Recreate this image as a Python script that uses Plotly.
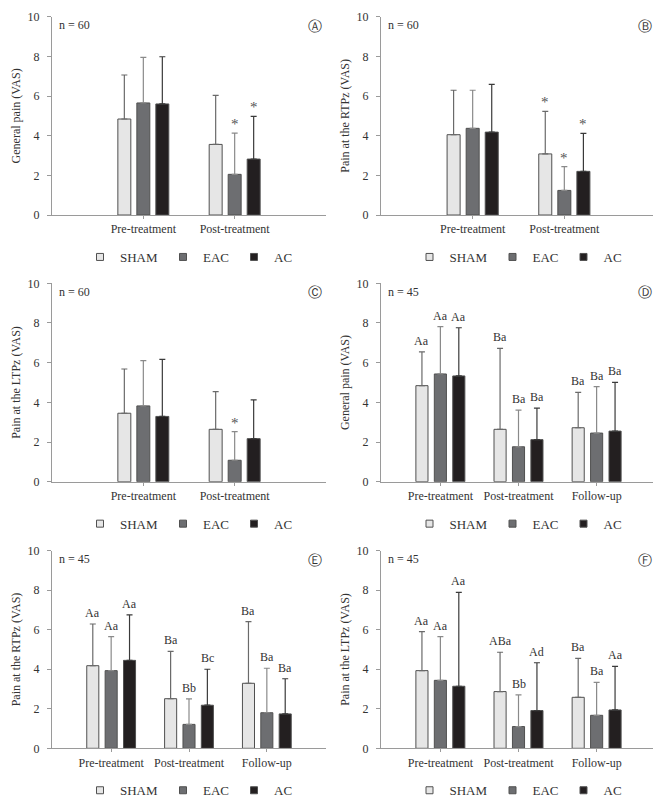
import plotly.graph_objects as go
from plotly.subplots import make_subplots

groups = ["SHAM", "EAC", "AC"]
cats2 = ["Pre-treatment", "Post-treatment"]
cats3 = ["Pre-treatment", "Post-treatment", "Follow-up"]

# Panel A - General pain (n = 60)
a_sham = [4.84, 3.56]; a_sham_sd = [2.22, 2.47]
a_eac = [5.65, 2.05]; a_eac_sd = [2.30, 2.08]
a_ac = [5.60, 2.82]; a_ac_sd = [2.38, 2.15]
a_marks = [["", ""], ["", "*"], ["", "*"]]

# Panel B - Pain at the RTPz (n = 60)
b_sham = [4.05, 3.08]; b_sham_sd = [2.24, 2.15]
b_eac = [4.37, 1.24]; b_eac_sd = [1.92, 1.20]
b_ac = [4.18, 2.20]; b_ac_sd = [2.41, 1.92]
b_marks = [["", "*"], ["", "*"], ["", "*"]]

# Panel C - Pain at the LTPz (n = 60)
c_sham = [3.45, 2.64]; c_sham_sd = [2.23, 1.90]
c_eac = [3.82, 1.08]; c_eac_sd = [2.28, 1.44]
c_ac = [3.29, 2.17]; c_ac_sd = [2.88, 1.95]
c_marks = [["", ""], ["", "*"], ["", ""]]

# Panel D - General pain (n = 45)
d_sham = [4.84, 2.64, 2.72]; d_sham_sd = [1.70, 4.08, 1.78]
d_eac = [5.43, 1.76, 2.45]; d_eac_sd = [2.39, 1.85, 2.34]
d_ac = [5.33, 2.12, 2.55]; d_ac_sd = [2.43, 1.59, 2.46]
d_marks = [["Aa", "Ba", "Ba"], ["Aa", "Ba", "Ba"], ["Aa", "Ba", "Ba"]]

# Panel E - Pain at the RTPz (n = 45)
e_sham = [4.18, 2.51, 3.29]; e_sham_sd = [2.11, 2.40, 3.12]
e_eac = [3.93, 1.21, 1.80]; e_eac_sd = [1.72, 1.29, 2.25]
e_ac = [4.45, 2.18, 1.74]; e_ac_sd = [2.30, 1.82, 1.78]
e_marks = [["Aa", "Ba", "Ba"], ["Aa", "Bb", "Ba"], ["Aa", "Bc", "Ba"]]

# Panel F - Pain at the LTPz (n = 45)
f_sham = [3.93, 2.87, 2.58]; f_sham_sd = [1.97, 1.99, 1.97]
f_eac = [3.44, 1.10, 1.67]; f_eac_sd = [2.21, 1.60, 1.67]
f_ac = [3.14, 1.91, 1.94]; f_ac_sd = [4.75, 2.42, 2.21]
f_marks = [["Aa", "ABa", "Ba"], ["Aa", "Bb", "Ba"], ["Aa", "Ad", "Aa"]]

panels = [
    dict(letter="Ⓐ", n="n = 60", ytitle="General pain (VAS)", cats=cats2,
         means=[a_sham, a_eac, a_ac], sds=[a_sham_sd, a_eac_sd, a_ac_sd], marks=a_marks),
    dict(letter="Ⓑ", n="n = 60", ytitle="Pain at the RTPz (VAS)", cats=cats2,
         means=[b_sham, b_eac, b_ac], sds=[b_sham_sd, b_eac_sd, b_ac_sd], marks=b_marks),
    dict(letter="Ⓒ", n="n = 60", ytitle="Pain at the LTPz (VAS)", cats=cats2,
         means=[c_sham, c_eac, c_ac], sds=[c_sham_sd, c_eac_sd, c_ac_sd], marks=c_marks),
    dict(letter="Ⓓ", n="n = 45", ytitle="General pain (VAS)", cats=cats3,
         means=[d_sham, d_eac, d_ac], sds=[d_sham_sd, d_eac_sd, d_ac_sd], marks=d_marks),
    dict(letter="Ⓔ", n="n = 45", ytitle="Pain at the RTPz (VAS)", cats=cats3,
         means=[e_sham, e_eac, e_ac], sds=[e_sham_sd, e_eac_sd, e_ac_sd], marks=e_marks),
    dict(letter="Ⓕ", n="n = 45", ytitle="Pain at the LTPz (VAS)", cats=cats3,
         means=[f_sham, f_eac, f_ac], sds=[f_sham_sd, f_eac_sd, f_ac_sd], marks=f_marks),
]

fill_colors = ["#e6e6e6", "#6d6e71", "#231f20"]
err_colors = ["#6a6a6a", "#8a8a8a", "#3a3a3a"]
SERIF = "Liberation Serif"
W, H = 661, 802
PAGE_OFF = 8  # default page margin around the plot div

fig = make_subplots(rows=3, cols=2)

x_px = [(52, 326), (381, 656)]
y_px = [(16.7, 215), (283.3, 481.7), (550.7, 748.3)]

for i, p in enumerate(panels):
    row, col = i // 2 + 1, i % 2 + 1
    ncat = len(p["cats"])
    pos = list(range(ncat))
    if ncat == 2:
        bw, step, xr = 0.142, 0.208, [-1, 2]
    else:
        bw, step, xr = 0.155, 0.236, [-0.76, 2.76]
    leg = "legend" if i == 0 else f"legend{i+1}"
    sp = fig.get_subplot(row, col)
    xa = sp.xaxis.plotly_name
    ya = sp.yaxis.plotly_name
    axref = xa.replace("axis", "")
    ayref = ya.replace("axis", "")
    for g in range(3):
        off = (g - 1) * step - bw / 2
        fig.add_trace(go.Bar(
            x=pos, y=p["means"][g], width=bw, offset=off,
            marker=dict(color=fill_colors[g], line=dict(color="#505050", width=1)),
            error_y=dict(type="data", array=p["sds"][g], arrayminus=[0] * ncat,
                         symmetric=False, color=err_colors[g], thickness=1.2, width=3),
            showlegend=False, name=groups[g], legend=leg,
        ), row=row, col=col)
        # legend-only marker
        fig.add_trace(go.Scatter(
            x=[None], y=[None], mode="markers", name=groups[g],
            marker=dict(symbol="square", size=7, color=fill_colors[g],
                        line=dict(color="#505050", width=1)),
            legend=leg, showlegend=True,
        ), row=row, col=col)
        # labels above error bars
        for k in range(ncat):
            t = p["marks"][g][k]
            if not t:
                continue
            top = p["means"][g][k] + p["sds"][g][k]
            is_star = t == "*"
            fig.add_annotation(
                x=pos[k] + (g - 1) * step, y=top, xref=axref, yref=ayref,
                text=t, showarrow=False, yanchor="bottom",
                yshift=(-1 if is_star else 2),
                font=dict(family=SERIF, size=(15 if is_star else 12),
                          color=("#555555" if is_star else "#333333")),
            )

    xd = [(x_px[col - 1][0] - PAGE_OFF) / W, (x_px[col - 1][1] - PAGE_OFF) / W]
    yd = [1 - (y_px[row - 1][1] - PAGE_OFF) / H, 1 - (y_px[row - 1][0] - PAGE_OFF) / H]
    fig.layout[xa].update(
        domain=xd, range=xr, tickvals=pos, ticktext=p["cats"],
        showline=True, linecolor="#9a9a9a", linewidth=1, ticks="outside",
        ticklen=3, tickcolor="#9a9a9a", showgrid=False, zeroline=False,
        tickfont=dict(family=SERIF, size=12, color="#333333"),
        automargin=False,
    )
    fig.layout[ya].update(
        domain=yd, range=[0, 10], dtick=2, tick0=0,
        showline=True, linecolor="#9a9a9a", linewidth=1, ticks="outside",
        ticklen=4, tickcolor="#9a9a9a", showgrid=False, zeroline=False,
        ticklabelstandoff=5, automargin=False,
        tickfont=dict(family=SERIF, size=12, color="#333333"),
        title=dict(text=p["ytitle"], standoff=4,
                   font=dict(family=SERIF, size=12, color="#333333")),
    )
    fig.add_annotation(x=0.018, y=0.958, xref=f"{axref} domain", yref=f"{ayref} domain",
                       text=p["n"], showarrow=False, xanchor="left", yanchor="middle",
                       font=dict(family=SERIF, size=12, color="#333333"))
    fig.add_annotation(x=0.992, y=0.955, xref=f"{axref} domain", yref=f"{ayref} domain",
                       text=p["letter"], showarrow=False, xanchor="right", yanchor="middle",
                       font=dict(family="DejaVu Sans", size=14, color="#333333"))
    fig.layout[leg] = dict(
        orientation="h", x=(xd[0] + xd[1]) / 2, xanchor="center",
        y=1 - (y_px[row - 1][1] + 42 - PAGE_OFF) / H, yanchor="middle",
        font=dict(family=SERIF, size=13, color="#333333"),
        itemwidth=30, bgcolor="rgba(0,0,0,0)", traceorder="normal",
        itemclick=False,
    )

fig.update_layout(
    width=W, height=H, margin=dict(l=0, r=0, t=0, b=0, autoexpand=False),
    plot_bgcolor="white", paper_bgcolor="white", barmode="overlay",
)

fig.write_html("out.html")
